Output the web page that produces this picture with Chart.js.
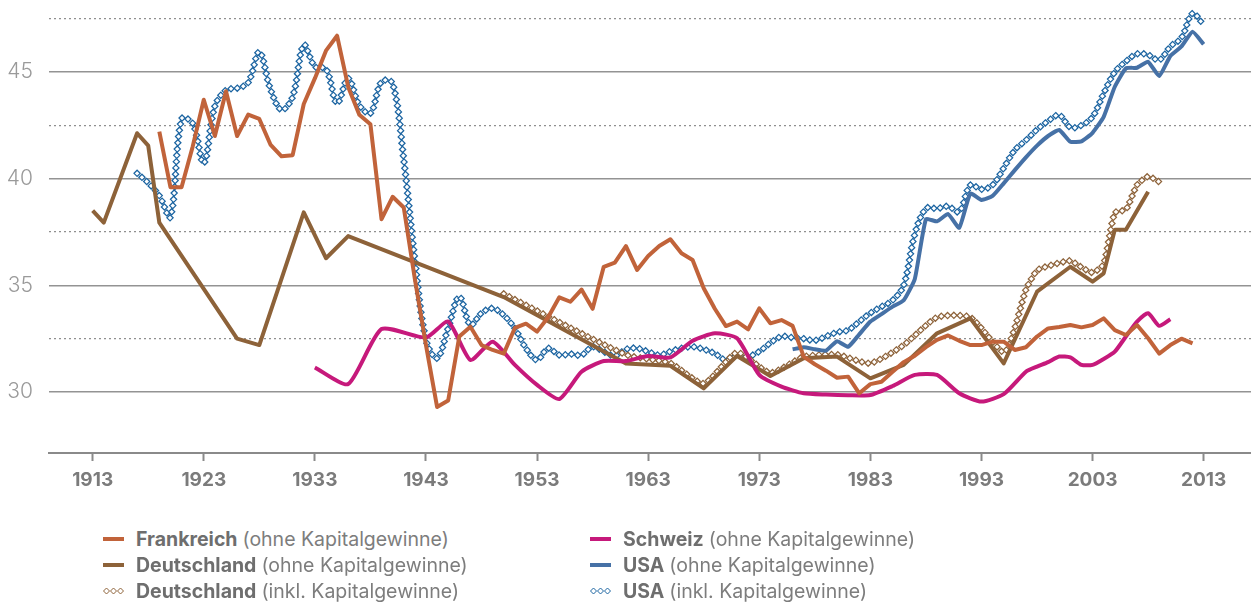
<!DOCTYPE html>
<html lang="de">
<head>
<meta charset="utf-8">
<title>Anteil des obersten Dezils</title>
<script src="https://cdn.jsdelivr.net/npm/chart.js@4.4.1/dist/chart.umd.min.js"></script>
<style>
  html, body { margin: 0; padding: 0; background: #fff; }
  body { width: 1251px; height: 605px; position: relative; overflow: hidden; font-family: Inter, 'Noto Sans', sans-serif; }
  #wrap { position: absolute; left: 0; top: 0; width: 1251px; height: 500px; }
  #legend { position: absolute; left: 103px; top: 528px; display: grid; grid-template-columns: 487px 420px; row-gap: 4px; }
  .item { display: flex; align-items: center; height: 22px; font-size: 19.5px; color: #7d7d7d; white-space: nowrap; }
  .item b { color: #6e6e6e; font-weight: 700; margin-right: 5px; }
  .sw { width: 21px; height: 10px; margin-right: 12px; flex: none; }
</style>
</head>
<body>
<div id="wrap"><canvas id="chart"></canvas></div>
<div id="legend"></div>
<script>
// ticks
const xTickYears = [1913, 1923, 1933, 1943, 1953, 1963, 1973, 1983, 1993, 2003, 2013];
const yTicks = [30, 32.5, 35, 37.5, 40, 42.5, 45, 47.5];

// Frankreich (ohne Kapitalgewinne), annual 1919-2012
const frYears = [];
for (let y = 1919; y <= 2012; y++) frYears.push(y);
const frValues = [
  42.2, 39.6, 39.6, 41.5, 43.7, 42.0, 44.1, 42.0, 43.0, 42.8,
  41.6, 41.05, 41.1, 43.5, 44.7, 46.0, 46.7, 44.3, 43.0, 42.55,
  38.1, 39.15, 38.65, 35.3, 32.2, 29.3, 29.6, 32.6, 33.06, 32.2,
  31.97, 31.8, 33.0, 33.2, 32.83, 33.5, 34.44, 34.23, 34.8, 33.9,
  35.87, 36.06, 36.84, 35.72, 36.37, 36.84, 37.16, 36.5, 36.19, 34.86,
  33.9, 33.09, 33.3, 32.94, 33.92, 33.22, 33.37, 33.1, 31.66, 31.3,
  31.0, 30.67, 30.72, 29.94, 30.37, 30.48, 30.95, 31.4, 31.7, 32.1,
  32.44, 32.65, 32.4, 32.2, 32.2, 32.36, 32.36, 31.97, 32.1, 32.6,
  32.98, 33.05, 33.14, 33.03, 33.14, 33.45, 32.9, 32.67, 33.14, 32.52,
  31.8, 32.2, 32.5, 32.28
];

// Schweiz (ohne Kapitalgewinne)
const chYears = [1933, 1936, 1939, 1943, 1945, 1947, 1949, 1951, 1953, 1955, 1957, 1959, 1961, 1963,
  1965, 1967, 1969, 1971, 1973, 1975, 1977, 1979, 1981, 1983, 1985, 1987, 1989, 1991, 1993, 1995,
  1997, 1998, 1999, 2000, 2001, 2002, 2003, 2004, 2005, 2006, 2007, 2008, 2009, 2010];
const chValues = [31.15, 30.37, 32.95, 32.55, 33.3, 31.5, 32.36, 31.27, 30.33, 29.67, 30.95, 31.45, 31.45, 31.69,
  31.62, 32.4, 32.75, 32.52, 30.8, 30.25, 29.94, 29.88, 29.85, 29.86, 30.28, 30.8, 30.8, 29.94, 29.55, 29.9,
  30.95, 31.19, 31.4, 31.66, 31.62, 31.27, 31.27, 31.55, 31.89, 32.6, 33.3, 33.69, 33.1, 33.41];

// Deutschland (ohne Kapitalgewinne)
const deYears = [1913, 1914, 1917, 1918, 1919, 1926, 1928, 1932, 1934, 1936, 1950, 1961, 1965, 1968,
  1971, 1974, 1977, 1980, 1983, 1986, 1989, 1992, 1995, 1998, 2001, 2003, 2004, 2005, 2006, 2008];
const deValues = [38.5, 37.94, 42.13, 41.55, 37.94, 32.5, 32.2, 38.42, 36.27, 37.31, 34.45, 31.34, 31.23, 30.17,
  31.69, 30.75, 31.58, 31.66, 30.64, 31.27, 32.75, 33.45, 31.34, 34.7, 35.87, 35.17, 35.56, 37.6, 37.6, 39.39];

// Deutschland (inkl. Kapitalgewinne)
const deInkYears = [1950, 1961, 1965, 1968, 1971, 1974, 1977, 1980, 1983, 1986, 1989, 1992, 1995, 1996,
  1997, 1998, 1999, 2000, 2001, 2002, 2003, 2004, 2005, 2006, 2007, 2008, 2009];
const deInkValues = [34.6, 31.75, 31.35, 30.4, 31.85, 30.9, 31.65, 31.75, 31.35, 32.2, 33.5, 33.5, 31.85, 33.0,
  34.8, 35.7, 35.9, 36.05, 36.15, 35.85, 35.6, 36.0, 38.4, 38.55, 39.7, 40.1, 39.85];

// USA (ohne Kapitalgewinne), annual 1976-2013
const usYears = [];
for (let y = 1976; y <= 2013; y++) usYears.push(y);
const usValues = [
  32.0, 32.1, 32.0, 31.94, 32.38, 32.12, 32.7, 33.3, 33.65, 34.0,
  34.3, 35.3, 38.1, 38.0, 38.34, 37.7, 39.3, 39.0, 39.19, 39.78,
  40.4, 41.0, 41.55, 42.0, 42.28, 41.73, 41.75, 42.15, 42.9, 44.31,
  45.17, 45.2, 45.48, 44.81, 45.75, 46.2, 46.89, 46.3
];

// USA (inkl. Kapitalgewinne), annual 1917-2013
const usInkYears = [];
for (let y = 1917; y <= 2013; y++) usInkYears.push(y);
const usInkValues = [
  40.25, 39.8, 39.2, 38.2, 42.8, 42.6, 40.72, 43.4, 44.15, 44.24,
  44.5, 45.95, 44.2, 43.22, 43.84, 46.27, 45.25, 45.15, 43.53, 44.7,
  43.45, 43.06, 44.55, 44.47, 40.9, 36.19, 32.44, 31.58, 33.0, 34.47,
  33.14, 33.7, 33.92, 33.6, 32.98, 32.05, 31.5, 32.05, 31.73, 31.78,
  31.73, 32.12, 31.89, 31.69, 32.0, 32.05, 31.89, 31.73, 31.9, 32.05,
  32.12, 32.0, 31.8, 31.5, 31.7, 31.66, 31.9, 32.3, 32.6, 32.55,
  32.5, 32.42, 32.6, 32.8, 32.9, 33.3, 33.7, 34.0, 34.3, 35.0,
  37.4, 38.6, 38.6, 38.7, 38.45, 39.7, 39.5, 39.7, 40.5, 41.34,
  41.8, 42.3, 42.7, 42.98, 42.4, 42.5, 42.9, 44.0, 45.0, 45.5,
  45.85, 45.8, 45.56, 46.2, 46.6, 47.75, 47.2
];

const pairs = (xs, ys) => xs.map((x, i) => ({ x: x, y: ys[i] }));

const C_FR = '#c1633a';
const C_DE = '#8d6239';
const C_CH = '#c6197b';
const C_US = '#4671a6';
const C_USINK = '#1b64a1';

// draws a chain of small diamonds along the line path the library computed
const diamondLine = {
  id: 'diamondLine',
  afterDatasetDraw(chart, args) {
    const ds = chart.data.datasets[args.index];
    if (!ds.diamondColor) return;
    const meta = args.meta;
    meta.dataset.updateControlPoints(chart.chartArea, 'x');
    const pts = meta.data;
    if (!pts.length) return;
    const ctx = chart.ctx;
    const area = chart.chartArea;
    const r = 3.1, step = 6.3;
    ctx.save();
    ctx.beginPath();
    ctx.rect(area.left, area.top, area.right - area.left, area.bottom - area.top);
    ctx.clip();
    ctx.strokeStyle = ds.diamondColor;
    ctx.fillStyle = '#fff';
    ctx.lineWidth = 1.25;
    const mark = (x, y) => {
      ctx.beginPath();
      ctx.moveTo(x, y - r);
      ctx.lineTo(x + r, y);
      ctx.lineTo(x, y + r);
      ctx.lineTo(x - r, y);
      ctx.closePath();
      ctx.fill();
      ctx.stroke();
    };
    let px = pts[0].x, py = pts[0].y, dist = 0, next = step;
    mark(px, py);
    for (let i = 0; i < pts.length - 1; i++) {
      const a = pts[i], b = pts[i + 1];
      const c1x = a.cp2x ?? a.x, c1y = a.cp2y ?? a.y;
      const c2x = b.cp1x ?? b.x, c2y = b.cp1y ?? b.y;
      const n = 30;
      for (let s = 1; s <= n; s++) {
        const t = s / n, u = 1 - t;
        const x = u * u * u * a.x + 3 * u * u * t * c1x + 3 * u * t * t * c2x + t * t * t * b.x;
        const y = u * u * u * a.y + 3 * u * u * t * c1y + 3 * u * t * t * c2y + t * t * t * b.y;
        const seg = Math.hypot(x - px, y - py);
        if (seg > 0) {
          while (dist + seg >= next) {
            const f = (next - dist) / seg;
            mark(px + f * (x - px), py + f * (y - py));
            next += step;
          }
          dist += seg;
        }
        px = x; py = y;
      }
    }
    ctx.restore();
  }
};

const solid = (label, xs, ys, color, tension) => ({
  label: label,
  data: pairs(xs, ys),
  borderColor: color,
  backgroundColor: color,
  borderWidth: 4,
  borderJoinStyle: 'round',
  pointRadius: 0,
  tension: tension
});

const chained = (label, xs, ys, color, tension) => ({
  label: label,
  data: pairs(xs, ys),
  borderColor: 'rgba(0,0,0,0)',
  borderWidth: 0,
  pointRadius: 0,
  tension: tension,
  diamondColor: color
});

const ctx = document.getElementById('chart').getContext('2d');
const chart = new Chart(ctx, {
  type: 'line',
  data: {
    datasets: [
      solid('Frankreich (ohne Kapitalgewinne)', frYears, frValues, C_FR, 0),
      solid('Schweiz (ohne Kapitalgewinne)', chYears, chValues, C_CH, 0.2),
      solid('Deutschland (ohne Kapitalgewinne)', deYears, deValues, C_DE, 0),
      solid('USA (ohne Kapitalgewinne)', usYears, usValues, C_US, 0.15),
      chained('Deutschland (inkl. Kapitalgewinne)', deInkYears, deInkValues, C_DE, 0.2),
      chained('USA (inkl. Kapitalgewinne)', usInkYears, usInkValues, C_USINK, 0.35)
    ]
  },
  options: {
    responsive: true,
    maintainAspectRatio: false,
    animation: false,
    layout: { padding: { top: 0, right: 0, bottom: 0, left: 0 } },
    plugins: { legend: { display: false }, tooltip: { enabled: false } },
    scales: {
      x: {
        type: 'linear',
        min: 1909.07,
        max: 2017.26,
        afterBuildTicks: (scale) => { scale.ticks = xTickYears.map(v => ({ value: v })); },
        afterFit: (scale) => { scale.height = 47; scale.paddingLeft = 0; scale.paddingRight = 0; },
        ticks: {
          callback: (v) => String(v),
          color: '#7b7b7b',
          padding: 8,
          maxRotation: 0,
          font: { family: 'Inter', size: 19, weight: 'bold' }
        },
        grid: { drawOnChartArea: false, drawTicks: true, tickLength: 8, tickColor: '#8a8a8a', tickWidth: 2 },
        border: { display: true, color: '#8a8a8a', width: 2 }
      },
      y: {
        min: 27.14,
        max: 48.375,
        afterBuildTicks: (scale) => { scale.ticks = yTicks.map(v => ({ value: v })); },
        afterFit: (scale) => { scale.width = 49; scale.paddingTop = 0; scale.paddingBottom = 0; },
        ticks: {
          callback: (v) => (v % 5 === 0 ? String(v) : ''),
          color: '#9a9a9a',
          padding: 16,
          font: { family: 'Inter', size: 21, weight: 300 }
        },
        grid: {
          drawTicks: false,
          color: (c) => (c.tick && c.tick.value % 5 === 0 ? '#939393' : '#8f8f8f'),
          lineWidth: (c) => (c.tick && c.tick.value % 5 === 0 ? 1.6 : 1.2)
        },
        border: {
          display: false,
          dash: (c) => (c.tick && c.tick.value % 5 === 0 ? [] : [2, 3])
        }
      }
    }
  },
  plugins: [diamondLine]
});

// legend (two columns, bold country name + light remainder)
const legendItems = [
  { name: 'Frankreich', rest: '(ohne Kapitalgewinne)', color: C_FR, chain: false },
  { name: 'Schweiz', rest: '(ohne Kapitalgewinne)', color: C_CH, chain: false },
  { name: 'Deutschland', rest: '(ohne Kapitalgewinne)', color: C_DE, chain: false },
  { name: 'USA', rest: '(ohne Kapitalgewinne)', color: C_US, chain: false },
  { name: 'Deutschland', rest: '(inkl. Kapitalgewinne)', color: C_DE, chain: true },
  { name: 'USA', rest: '(inkl. Kapitalgewinne)', color: C_USINK, chain: true }
];
const legendBox = document.getElementById('legend');
legendItems.forEach((item) => {
  const row = document.createElement('div');
  row.className = 'item';
  const sw = document.createElement('canvas');
  sw.className = 'sw';
  sw.width = 21; sw.height = 10;
  const g = sw.getContext('2d');
  if (item.chain) {
    g.strokeStyle = item.color; g.fillStyle = '#fff'; g.lineWidth = 1;
    [3.5, 10.5, 17.5].forEach((cx) => {
      g.beginPath(); g.moveTo(cx, 2); g.lineTo(cx + 3, 5); g.lineTo(cx, 8); g.lineTo(cx - 3, 5); g.closePath();
      g.fill(); g.stroke();
    });
  } else {
    g.fillStyle = item.color; g.fillRect(0, 3, 21, 4);
  }
  const name = document.createElement('b');
  name.textContent = item.name;
  const rest = document.createElement('span');
  rest.textContent = item.rest;
  row.append(sw, name, rest);
  legendBox.append(row);
});
</script>
</body>
</html>
